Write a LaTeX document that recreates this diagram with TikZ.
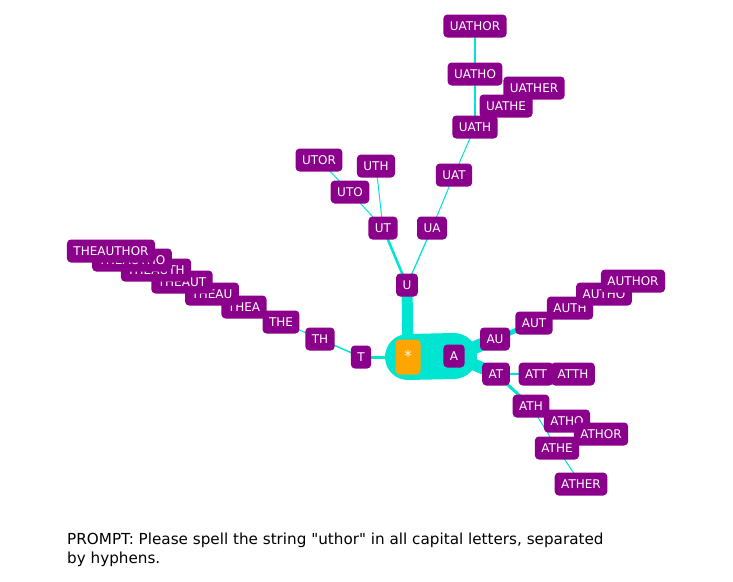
\documentclass[tikz,border=0pt]{standalone}
\usepackage{fontspec}
\setmainfont{DejaVu Sans}[Ligatures=TeXOff]
\usetikzlibrary{backgrounds}
\definecolor{tokpurple}{RGB}{139,0,139}
\definecolor{edgecyan}{RGB}{0,229,210}
\definecolor{starorange}{RGB}{255,165,0}
\begin{document}
\begin{tikzpicture}[x=1pt,y=-1pt,
  tok/.style={fill=tokpurple, text=white, rounded corners=4, minimum height=23,
    inner xsep=6.5, inner ysep=0, text height=9, text depth=0,
    font=\fontsize{12}{12}\selectfont},
  startok/.style={fill=starorange, text=white, rounded corners=4, minimum width=25,
    minimum height=35, inner sep=0, font=\fontsize{15}{15}\selectfont},
  edge/.style={draw=edgecyan, line width=#1},
  edge/.default=1]
\useasboundingbox (0,0) rectangle (733,581);
% nodes (positions in pixels)
\path
 (408,357) node[startok] (star) {\raisebox{3pt}{*}}
 (454,356) node[tok] (A) {A}
 (407,285) node[tok] (U) {U}
 (361,357) node[tok] (T) {T}
 (320,339) node[tok] (TH) {TH}
 (281,322) node[tok] (THE) {THE}
 (244,307) node[tok] (THEA) {THEA}
 (212,294) node[tok] (THEAU) {THEAU}
 (182,282) node[tok] (THEAUT) {THEAUT}
 (156,270) node[tok] (THEAUTH) {THEAUTH}
 (132,260) node[tok] (THEAUTHO) {THEAUTHO}
 (111,251) node[tok] (THEAUTHOR) {THEAUTHOR}
 (383,228) node[tok] (UT) {UT}
 (432,228) node[tok] (UA) {UA}
 (350,192) node[tok] (UTO) {UTO}
 (376,166) node[tok] (UTH) {UTH}
 (319,160) node[tok] (UTOR) {UTOR}
 (454,175) node[tok] (UAT) {UAT}
 (475,127) node[tok] (UATH) {UATH}
 (534,88) node[tok] (UATHER) {UATHER}
 (506,106) node[tok] (UATHE) {UATHE}
 (475,74) node[tok] (UATHO) {UATHO}
 (475,26) node[tok] (UATHOR) {UATHOR}
 (495,339) node[tok] (AU) {AU}
 (534,323) node[tok] (AUT) {AUT}
 (570,308) node[tok] (AUTH) {AUTH}
 (604,294) node[tok] (AUTHO) {AUTHO}
 (633,281) node[tok] (AUTHOR) {AUTHOR}
 (496,374) node[tok] (AT) {AT}
 (536,374) node[tok] (ATT) {ATT}
 (573,374) node[tok] (ATTH) {ATTH}
 (531,406) node[tok] (ATH) {ATH}
 (567,421) node[tok] (ATHO) {ATHO}
 (557,448) node[tok] (ATHE) {ATHE}
 (601,434) node[tok] (ATHOR) {ATHOR}
 (581,484) node[tok] (ATHER) {ATHER};
% prompt
\node[anchor=base west, align=left, inner sep=0, font=\fontsize{15.2}{18.5}\selectfont]
  (prompt) at (67,563) {PROMPT: Please spell the string "uthor" in all capital letters, separated\\by hyphens.};
% edges behind nodes
\begin{scope}[on background layer]
 \draw[edge=46, line cap=round] (star.center) -- (A.center);
 \draw[edge=11] (star.center) -- (U.center);
 \draw[edge=3] (star.center) -- (T.center);
 \draw[edge=1.5] (T.center) -- (TH.center);
 \draw[edge=1] (TH.center) -- (THE.center);
 \draw[edge=1] (THE.center) -- (THEA.center) -- (THEAU.center) -- (THEAUT.center)
   -- (THEAUTH.center) -- (THEAUTHO.center) -- (THEAUTHOR.center);
 \draw[edge=2.5] (U.center) -- (UT.center);
 \draw[edge=1.3] (U.center) -- (UA.center);
 \draw[edge=1] (UT.center) -- (UTO.center);
 \draw[edge=1] (UTO.center) -- (UTOR.center);
 \draw[edge=1] (UT.center) -- (UTH.center);
 \draw[edge=1] (UA.center) -- (UAT.center);
 \draw[edge=1] (UAT.center) -- (UATH.center);
 \draw[edge=1.3] (UATH.center) -- (UATHO.center);
 \draw[edge=1.3] (UATHO.center) -- (UATHOR.center);
 \draw[edge=1] (UATH.center) -- (UATHE.center);
 \draw[edge=1] (UATHE.center) -- (UATHER.center);
 \draw[edge=13] (A.center) -- (AU.center);
 \draw[edge=12] (A.center) -- (AT.center);
 \draw[edge=5] (AU.center) -- (AUT.center);
 \draw[edge=1] (AUT.center) -- (AUTH.center);
 \draw[edge=1] (AUTH.center) -- (AUTHO.center);
 \draw[edge=1] (AUTHO.center) -- (AUTHOR.center);
 \draw[edge=1.2] (AT.center) -- (ATT.center);
 \draw[edge=1] (ATT.center) -- (ATTH.center);
 \draw[edge=3] (AT.center) -- (ATH.center);
 \draw[edge=1] (ATH.center) -- (ATHO.center);
 \draw[edge=1] (ATHO.center) -- (ATHOR.center);
 \draw[edge=1] (ATH.center) -- (ATHE.center);
 \draw[edge=1] (ATHE.center) -- (ATHER.center);
\end{scope}
\end{tikzpicture}
\end{document}
